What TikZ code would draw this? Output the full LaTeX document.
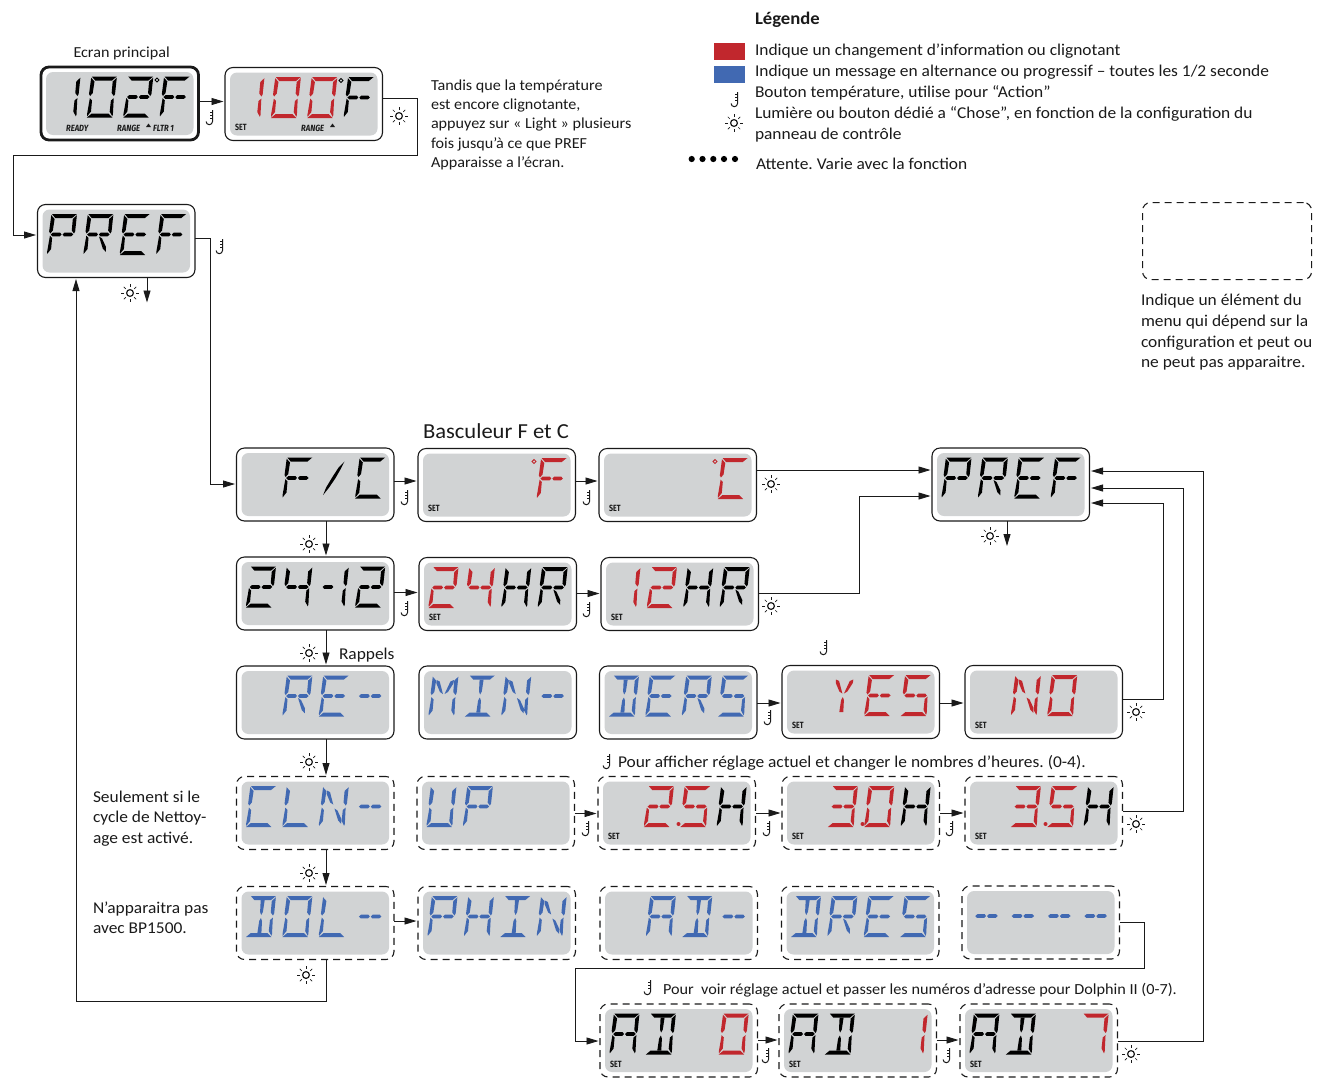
\documentclass[tikz,border=0pt]{standalone}
\usepackage{fontspec}
\setmainfont[FakeStretch=1.055]{Carlito}
\newfontfamily\lblfont{Fira Sans}
\usetikzlibrary{calc,arrows.meta}
\definecolor{lred}{HTML}{C1272D}
\definecolor{lblue}{HTML}{4169B2}
\definecolor{lgray}{HTML}{D1D3D4}
\definecolor{ink}{HTML}{1A1A1A}
\frenchspacing
% --- LCD segments, unslanted cell 25.5 x 41
\def\lsA{\fill[\lcdcol] (0.6,0)--(25.6,0)--(21.2,4)--(4.4,4)--cycle;}
\def\lsD{\fill[\lcdcol] (-0.2,41)--(25.2,41)--(20.8,37)--(4.2,37)--cycle;}
\def\lsF{\fill[\lcdcol] (0.1,1.2)--(3.8,5)--(3.2,16.5)--(0.9,19.5)--(-0.4,17.5)--cycle;}
\def\lsE{\fill[\lcdcol] (0.8,21.6)--(3.2,24)--(3.3,35)--(0,39.8)--(-0.4,38)--cycle;}
\def\lsB{\fill[\lcdcol] (25.7,1.2)--(22,5)--(22.1,16.5)--(24.6,19.5)--(25.6,17.5)--cycle;}
\def\lsC{\fill[\lcdcol] (24.7,21.6)--(22.1,24)--(22,35)--(25,39.8)--(25.5,38)--cycle;}
\def\lsG{\fill[\lcdcol] (1.5,20.5)--(3.5,18.6)--(10.7,18.6)--(12.3,20.5)--(10.7,22.4)--(3.5,22.4)--cycle;}
\def\lsH{\fill[\lcdcol] (13.3,20.5)--(15,18.6)--(22,18.6)--(24,20.5)--(22,22.4)--(15,22.4)--cycle;}
\def\lsI{\fill[\lcdcol] (10.8,4)--(14.8,4)--(14.2,16)--(12.8,19)--(11.4,16)--cycle;}
\def\lsL{\fill[\lcdcol] (12.8,22)--(14.2,25)--(14.8,37)--(10.8,37)--(11.4,25)--cycle;}
\def\lsU{\fill[\lcdcol] (4.2,4.5)--(7.5,6)--(12,18.5)--(8.8,16.5)--(4.4,8)--cycle;}
\def\lsV{\fill[\lcdcol] (21.6,4.5)--(18.2,6)--(13.6,18.5)--(16.8,16.5)--(21.4,8)--cycle;}
\def\lsX{\fill[\lcdcol] (21.8,37.8)--(18.5,34.5)--(13.6,22.5)--(16.8,24.5)--(21.6,33)--cycle;}
% --- glyphs
\def\gP{\lsA\lsB\lsF\lsE\lsG\lsH}
\def\gR{\gP\lsX}
\def\gE{\lsA\lsF\lsE\lsG\lsH\lsD}
\def\gF{\lsA\lsF\lsE\lsG\lsH}
\def\gC{\lsA\lsF\lsE\lsD}
\def\gS{\lsA\lsF\lsG\lsH\lsC\lsD}
\def\gSl{\fill[\lcdcol] (21.8,4)--(18.5,12)--(14.5,20.5)--(9,30)--(3.8,37.5)--(6,30)--(11,20)--(16.5,10)--cycle;}
\def\gTwo{\lsA\lsB\lsG\lsH\lsE\lsD}
\def\gThree{\lsA\lsB\lsC\lsD\lsG\lsH}
\def\gFour{\lsF\lsG\lsH\lsB\lsC}
\def\gOne{\lsB\lsC}
\def\gDash{\lsG\lsH}
\def\gH{\lsF\lsE\lsB\lsC\lsG\lsH}
\def\gM{\lsF\lsE\lsB\lsC\lsU\lsV}
\def\gN{\lsF\lsE\lsB\lsC\lsU\lsX}
\def\gI{\lsA\lsD\lsI\lsL}
\def\gDD{\lsA\lsD\lsI\lsL\lsB\lsC}
\def\gL{\lsF\lsE\lsD}
\def\gU{\lsF\lsE\lsB\lsC\lsD}
\def\gO{\lsA\lsB\lsC\lsD\lsE\lsF}
\def\gY{\lsU\lsV\lsL}
\def\gA{\lsA\lsB\lsC\lsE\lsF\lsG\lsH}
\def\gSeven{\lsA\lsB\lsC}
\def\gDashOne{\lsG\lsB\lsC}
\newcommand\chr[4]{\begin{scope}[shift={($(#1.north west)+({13.8+36.4*#2},9.5)$)},xslant=.10]\def\lcdcol{#3}#4\end{scope}}
\newcommand\lcdrow[6]{\chr{#1}{0}{#2}{#3}\chr{#1}{1}{#2}{#4}\chr{#1}{2}{#2}{#5}\chr{#1}{3}{#2}{#6}}
% --- panels
\tikzset{
  panelbox/.style={draw=ink,line width=1.1pt,rounded corners=8pt,minimum width=157.5pt,minimum height=73pt,inner sep=0pt,outer sep=0pt,anchor=north west},
  dashbox/.style={panelbox,dash pattern=on 7pt off 5pt},
  screen/.style={fill=lgray,rounded corners=7pt},
  conn/.style={draw=ink,line width=.9pt,-{Triangle[length=12pt,width=7pt]}},
  txt/.style={anchor=base west,inner sep=0pt,outer sep=0pt,text=ink,font=\fontsize{16.5}{17}\selectfont},
  stxt/.style={txt,font=\fontsize{15.3}{16}\selectfont},
  setlbl/.style={inner sep=0pt,text=ink,font=\lblfont\bfseries\fontsize{9}{9}\selectfont,anchor=west},
  thermo/.pic={\draw[ink,line width=1pt] (2.5,-8)--(2.5,3.5) arc[start angle=0,end angle=-180,radius=3.2pt];
     \draw[ink,line width=.7pt] (.3,-6)--(2.5,-6) (.3,-3)--(2.5,-3) (.3,0)--(2.5,0);},
  sun/.pic={\draw[ink,line width=1.2pt] (0,0) circle (3.4pt);
     \foreach \a in {0,45,...,315}{\draw[ink,line width=.7pt] (\a:6pt)--(\a:8.8pt);}},
}
\newcommand\panel[4][panelbox]{\node[#1] (#2) at (#3,#4) {};
  \fill[screen] ($(#2.north west)+(5,5)$) rectangle ($(#2.south east)+(-5,-5)$);}
\newcommand\setmark[1]{\node[setlbl] (set#1) at ($(#1.north west)+(10,60)$) {\scalebox{.78}[1]{SET}};}
\newcommand\degmark[2]{\draw[#2,line width=.9pt] ($(#1.north west)+(116,13)$) circle (1.9pt);}
\newcommand\harr[3]{\draw[conn] ($(#1.north east)+(0,#3)$) coordinate (tmpa) -- ($(tmpa -| #2.west)+(-1.5,0)$);}
\newcommand\varr[3]{\draw[conn] ($(#1.south west)+(#3,0)$) coordinate (tmpa) -- ($(tmpa |- #2.north)+(0,-1.5)$);}
\begin{document}
\begin{tikzpicture}[x=1pt,y=-1pt]
\useasboundingbox (0,0) rectangle (1325,1080);
% panels
\panel[panelbox,line width=2.8pt]{main}{41}{67}
\panel{cur}{225}{67.5}
\panel{prefa}{37.5}{204.5}
\panel{fc}{236.5}{448}
\panel{ff}{418}{448.5}
\panel{cc}{599}{448.5}
\panel{prefb}{932}{448}
\panel{tf}{236.5}{557}
\panel{tfh}{419}{557.5}
\panel{twh}{601}{557.5}
\panel{re}{236.5}{666}
\panel{mn}{419}{666}
\panel{ders}{599.5}{666}
\panel{yes}{782}{665.5}
\panel{no}{965}{665.5}
\panel[dashbox]{cln}{236.5}{776.5}
\panel[dashbox]{up}{417}{776.5}
\panel[dashbox]{hA}{598}{776.5}
\panel[dashbox]{hB}{782}{776.5}
\panel[dashbox]{hC}{965}{776.5}
\panel[dashbox]{dol}{236.5}{886.5}
\panel[dashbox]{phin}{418}{886.5}
\panel[dashbox]{adm}{600}{886.5}
\panel[dashbox]{dres}{781.5}{886.5}
\panel[dashbox]{dd}{962}{886}
\panel[dashbox]{adA}{600}{1004}
\panel[dashbox]{adB}{779}{1004}
\panel[dashbox]{adC}{960}{1004}
\node[draw=ink,line width=1.1pt,rounded corners=8pt,dash pattern=on 7pt off 5pt,minimum width=169pt,minimum height=77pt,inner sep=0pt,anchor=north west] (optbox) at (1142,202) {};
% digits
\lcdrow{main}{black}{\gOne}{\gO}{\gTwo}{\gF}\degmark{main}{black}
\lcdrow{cur}{lred}{\gOne}{\gO}{\gO}{}\chr{cur}{3}{black}{\gF}\degmark{cur}{black}
\lcdrow{prefa}{black}{\gP}{\gR}{\gE}{\gF}
\lcdrow{prefb}{black}{\gP}{\gR}{\gE}{\gF}
\lcdrow{fc}{black}{}{\gF}{\gSl}{\gC}
\chr{ff}{3}{lred}{\gF}\degmark{ff}{lred}
\chr{cc}{3}{lred}{\gC}\degmark{cc}{lred}
\lcdrow{tf}{black}{\gTwo}{\gFour}{\gDashOne}{\gTwo}
\lcdrow{tfh}{lred}{\gTwo}{\gFour}{}{}\chr{tfh}{2}{black}{\gH}\chr{tfh}{3}{black}{\gR}
\lcdrow{twh}{lred}{\gOne}{\gTwo}{}{}\chr{twh}{2}{black}{\gH}\chr{twh}{3}{black}{\gR}
\lcdrow{re}{lblue}{}{\gR}{\gE}{\gDash}
\lcdrow{mn}{lblue}{\gM}{\gI}{\gN}{\gDash}
\lcdrow{ders}{lblue}{\gDD}{\gE}{\gR}{\gS}
\lcdrow{yes}{lred}{}{\gY}{\gE}{\gS}
\lcdrow{no}{lred}{}{\gN}{\gO}{}
\lcdrow{cln}{lblue}{\gC}{\gL}{\gN}{\gDash}
\lcdrow{up}{lblue}{\gU}{\gP}{}{}
\lcdrow{hA}{lred}{}{\gTwo}{\gS}{}\chr{hA}{3}{black}{\gH}
\lcdrow{hB}{lred}{}{\gThree}{\gO}{}\chr{hB}{3}{black}{\gH}
\lcdrow{hC}{lred}{}{\gThree}{\gS}{}\chr{hC}{3}{black}{\gH}
\foreach \p in {hA,hB,hC}{\fill[lred] ($(\p.north west)+(80.5,47.5)$) circle (2pt);}
\lcdrow{dol}{lblue}{\gDD}{\gO}{\gL}{\gDash}
\lcdrow{phin}{lblue}{\gP}{\gH}{\gI}{\gN}
\lcdrow{adm}{lblue}{}{\gA}{\gDD}{\gDash}
\lcdrow{dres}{lblue}{\gDD}{\gR}{\gE}{\gS}
\lcdrow{dd}{lblue}{\gDash}{\gDash}{\gDash}{\gDash}
\lcdrow{adA}{black}{\gA}{\gDD}{}{}\chr{adA}{3}{lred}{\gO}
\lcdrow{adB}{black}{\gA}{\gDD}{}{}\chr{adB}{3}{lred}{\gOne}
\lcdrow{adC}{black}{\gA}{\gDD}{}{}\chr{adC}{3}{lred}{\gSeven}
% SET etc
\foreach \p in {cur,ff,cc,tfh,twh,yes,no,hA,hB,hC,adA,adB,adC}{\setmark{\p}}
\node[setlbl] (lready) at (66,128) {\scalebox{.85}[1]{\itshape READY}};
\node[setlbl] (lrangea) at (117,128) {\scalebox{.85}[1]{\itshape RANGE}};
\node[setlbl] (lfltr) at (153,128) {\scalebox{.85}[1]{\itshape FLTR 1}};
\node[setlbl] (lrangeb) at (301,128) {\scalebox{.85}[1]{\itshape RANGE}};
\fill[ink] (146,127)--(151,127)--(148.5,123.5)--cycle;
\fill[ink] (330,127)--(335,127)--(332.5,123.5)--cycle;
% connectors
\harr{main}{cur}{34.5}
\coordinate (ca) at (417,155); \coordinate (cb) at (13,155);
\draw[conn] ($(cur.north east)+(0,31)$) -| (ca) -- (cb) |- ($(prefa.north west)+(-1.5,30.5)$);
\coordinate (cc1) at (210,238);
\draw[conn] ($(prefa.north east)+(0,33.5)$) -| (cc1) |- ($(fc.north west)+(-1.5,36)$);
\draw[conn] ($(prefa.south west)+(109.5,0)$) -- ++(0,25);
\coordinate (cd) at (326,1001); \coordinate (ce) at (76,1001);
\draw[conn] ($(dol.south west)+(89.5,0)$) -- (cd) -- (ce) -- ($(prefa.south west)+(38.5,1.5)$);
\varr{fc}{tf}{89.5}
\varr{tf}{re}{89.5}
\varr{re}{cln}{89.5}
\varr{cln}{dol}{89.5}
\harr{fc}{ff}{33}
\harr{ff}{cc}{32.5}
\harr{tf}{tfh}{35.5}
\harr{tfh}{twh}{36}
\harr{ders}{yes}{37}
\harr{yes}{no}{37.5}
\harr{up}{hA}{37}
\harr{hA}{hB}{36.5}
\harr{hB}{hC}{36.5}
\harr{dol}{phin}{34.5}
\harr{adA}{adB}{36}
\harr{adB}{adC}{36}
\harr{cc}{prefb}{21.5}
\coordinate (cf) at (859,593);
\draw[conn] ($(twh.north east)+(0,35.5)$) -- (cf) |- ($(prefb.north west)+(-1.5,48)$);
\draw[conn] ($(prefb.south west)+(75,0)$) -- ++(0,25);
\coordinate (cg) at (1163,699);
\draw[conn] ($(no.north east)+(0,33.5)$) -- (cg) |- ($(prefb.north east)+(1.5,55)$);
\coordinate (ch) at (1183,811);
\draw[conn] ($(hC.north east)+(0,34.5)$) -- (ch) |- ($(prefb.north east)+(1.5,40)$);
\coordinate (ci) at (1203,1041);
\draw[conn] ($(adC.north east)+(0,37)$) -- (ci) |- ($(prefb.north east)+(1.5,23)$);
\coordinate (cj) at (1144,922); \coordinate (ck) at (1144,968); \coordinate (cl) at (575,968);
\draw[conn] ($(dd.north east)+(0,36)$) -- (cj) -- (ck) -- (cl) |- ($(adA.north west)+(-1.5,37)$);
% icons
\foreach \x/\y in {210/118,220/247,405/498,587/498,405/609,587/610,824/648,768/718,586/829,767/829,950/829,766/1056,947/1056,735/100,607/762,648/988}{\pic at (\x,\y) {thermo};}
\foreach \x/\y in {399/116,130/293,771/484,771/606,309/544,309/653,309/762,309/873,306/975,990/536,1136/712,1136/824,1131/1054,734/123}{\pic at (\x,\y) {sun};}
% legend
\node[txt,font=\bfseries\fontsize{17.7}{18}\selectfont] (tleg) at (755,24) {Légende};
\node[fill=lred,minimum width=31pt,minimum height=17pt,inner sep=0pt,anchor=north west] (lr) at (714,43) {};
\node[fill=lblue,minimum width=31pt,minimum height=17pt,inner sep=0pt,anchor=north west] (lb) at (714,66) {};
\node[txt] (t1) at (755,55) {Indique un changement d’information ou clignotant};
\node[txt] (t2) at (755,76) {Indique un message en alternance ou progressif – toutes les 1/2 seconde};
\node[txt] (t3) at (755,97) {Bouton température, utilise pour “Action”};
\node[txt] (t4) at (755,118) {Lumière ou bouton dédié a “Chose”, en fonction de la configuration du};
\node[txt] (t5) at (755,139) {panneau de contrôle};
\foreach \x in {691.7,702.5,713.3,724,735}{\fill[black] (\x,159) circle (3.1pt);}
\node[txt] (t6) at (756,169) {Attente. Varie avec la fonction};
% notes
\node[stxt] (ecr) at (73.5,57) {Ecran principal};
\node[stxt] (n1) at (431,90) {Tandis que la température};
\node[stxt] (n2) at (431,109) {est encore clignotante,};
\node[stxt] (n3) at (431,128) {appuyez sur « Light » plusieurs};
\node[stxt] (n4) at (431,148) {fois jusqu'à ce que PREF};
\node[stxt] (n5) at (431,167) {Apparaisse a l’écran.};
\node[txt] (o1) at (1141,305) {Indique un élément du};
\node[txt] (o2) at (1141,326) {menu qui dépend sur la};
\node[txt] (o3) at (1141,347) {configuration et peut ou};
\node[txt] (o4) at (1141,367) {ne peut pas apparaitre.};
\node[txt,font=\fontsize{21.4}{22}\selectfont] (bas) at (423,438) {Basculeur F et C};
\node[txt] (rap) at (339,659) {Rappels};
\node[txt] (s1) at (93,802) {Seulement si le};
\node[txt] (s2) at (93,822) {cycle de Nettoy-};
\node[txt] (s3) at (93,843) {age est activé.};
\node[txt] (s4) at (93,913) {N’apparaitra pas};
\node[txt] (s5) at (93,933) {avec BP1500.};
\node[txt] (p1) at (618,767) {Pour afficher réglage actuel et changer le nombres d’heures. (0-4).};
\node[txt,font=\fontsize{15.4}{16}\selectfont] (p2) at (663,994) {Pour\ \ voir réglage actuel et passer les numéros d’adresse pour Dolphin II (0-7).};
\end{tikzpicture}
\end{document}
